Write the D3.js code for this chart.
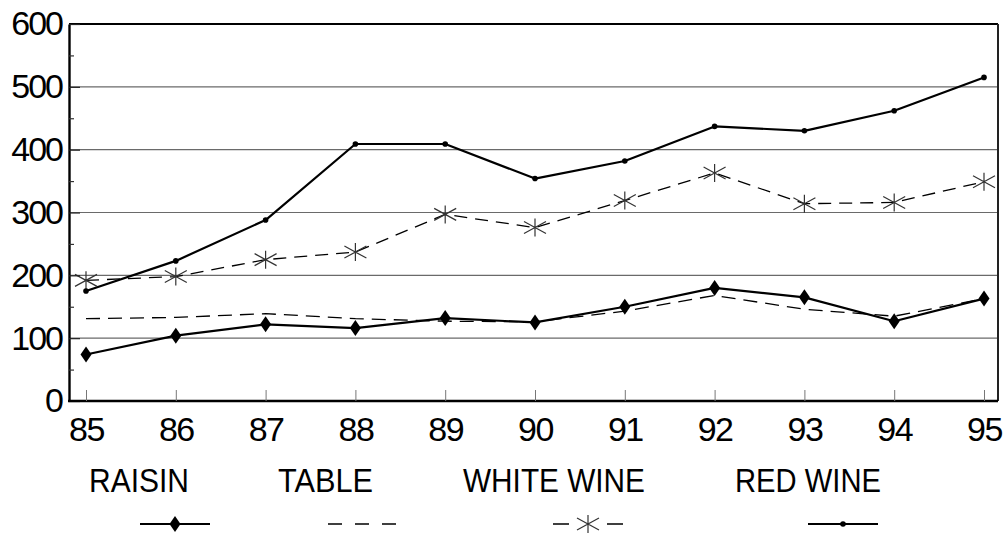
<!DOCTYPE html>
<html>
<head>
<meta charset="utf-8">
<script src="https://d3js.org/d3.v7.min.js"></script>
<style>
    body { margin: 0; background: #fff; }
    svg { display: block; }
    text { font-family: "Liberation Sans", Arial, Helvetica, sans-serif; fill: #000; }
</style>
</head>
<body>
<svg width="1008" height="535"></svg>
<script>
let width = 1008, height = 535;

// Data
let years = ["85", "86", "87", "88", "89", "90", "91", "92", "93", "94", "95"];
let raisin = [74, 104, 122, 116, 132, 125, 150, 180, 165, 127, 163];
let table = [131, 133, 139, 131, 127, 126, 143, 168, 146, 135, 163];
let whiteWine = [192, 198, 225, 237, 297, 276, 319, 363, 314, 316, 349];
let redWine = [175, 223, 288, 409, 409, 354, 382, 437, 430, 462, 515];
let yTicks = [0, 100, 200, 300, 400, 500, 600];
let yMinorTicks = [50, 150, 250, 350, 450, 550];
let seriesNames = ["RAISIN", "TABLE", "WHITE WINE", "RED WINE"];

let svg = d3.select("svg")
    .attr("viewBox", "0 0 " + width + " " + height);

let plot = { left: 69, right: 998, top: 24, bottom: 401 };

// Scales
let x = d3.scalePoint()
    .domain(years)
    .range([86, 984]);

let y = d3.scaleLinear()
    .domain([0, 600])
    .range([plot.bottom, plot.top]);

// Series styling
let series = [
    { name: seriesNames[0], values: raisin, width: 2.2, dash: null, legendDash: null, marker: "diamond" },
    { name: seriesNames[1], values: table, width: 1.3, dash: "14,8", legendDash: "14,13", marker: null },
    { name: seriesNames[2], values: whiteWine, width: 1.3, dash: "13,8", legendDash: "16,38", marker: "star" },
    { name: seriesNames[3], values: redWine, width: 2.2, dash: null, legendDash: null, marker: "dot" }
];

// Gridlines
svg.append("g")
    .selectAll("line")
    .data(yTicks.filter(d => d > 0 && d < 600))
    .enter().append("line")
    .attr("x1", plot.left)
    .attr("x2", plot.right)
    .attr("y1", d => y(d))
    .attr("y2", d => y(d))
    .attr("stroke", "#6a6a6a")
    .attr("stroke-width", 1.2);

// Top and right border
svg.append("line")
    .attr("x1", plot.left).attr("x2", plot.right)
    .attr("y1", plot.top).attr("y2", plot.top)
    .attr("stroke", "#000").attr("stroke-width", 2.2);
svg.append("line")
    .attr("x1", plot.right).attr("x2", plot.right)
    .attr("y1", plot.top).attr("y2", plot.bottom)
    .attr("stroke", "#222").attr("stroke-width", 2);

// Marker shapes
function drawMarker(g, type, cx, cy) {
    if (type == "diamond") {
        g.append("path")
            .attr("d", `M${cx},${cy - 8}L${cx + 5.5},${cy}L${cx},${cy + 8}L${cx - 5.5},${cy}Z`)
            .attr("fill", "#000");
    } else if (type == "dot") {
        g.append("circle")
            .attr("cx", cx).attr("cy", cy).attr("r", 2.8)
            .attr("fill", "#000");
    } else if (type == "star") {
        g.append("path")
            .attr("d", `M${cx},${cy - 9}L${cx},${cy + 9}M${cx - 11},${cy - 6}L${cx + 11},${cy + 6}M${cx - 11},${cy + 6}L${cx + 11},${cy - 6}`)
            .attr("stroke", "#333")
            .attr("stroke-width", 1.2)
            .attr("fill", "none");
    }
}

let line = d3.line()
    .x((d, i) => x(years[i]))
    .y(d => y(d));

// Lines
let lines = svg.append("g");
series.forEach(s => {
    lines.append("path")
        .datum(s.values)
        .attr("d", line)
        .attr("fill", "none")
        .attr("stroke", "#000")
        .attr("stroke-width", s.width)
        .attr("stroke-linejoin", "round")
        .attr("stroke-dasharray", s.dash);
});

// Markers
let markers = svg.append("g");
series.forEach(s => {
    if (!s.marker) return;
    s.values.forEach((v, i) => drawMarker(markers, s.marker, x(years[i]), y(v)));
});

// Y axis
let yAxis = svg.append("g")
    .attr("transform", "translate(" + plot.left + ",0)")
    .call(d3.axisLeft(y)
        .tickValues(yTicks)
        .tickSizeInner(-11)
        .tickSizeOuter(0)
        .tickPadding(7));
yAxis.select(".domain").attr("stroke", "#000").attr("stroke-width", 2.4);
yAxis.selectAll(".tick line").attr("stroke", "#222").attr("stroke-width", 1.2);
yAxis.selectAll(".tick text")
    .style("font-size", "34px")
    .style("letter-spacing", "-2px")
    .style("font-family", "'Liberation Sans', Arial, sans-serif");

let yMinor = svg.append("g")
    .attr("transform", "translate(" + plot.left + ",0)")
    .call(d3.axisLeft(y)
        .tickValues(yMinorTicks)
        .tickSizeInner(-5)
        .tickSizeOuter(0)
        .tickFormat(""));
yMinor.select(".domain").remove();
yMinor.selectAll(".tick line").attr("stroke", "#333").attr("stroke-width", 1.2);

// X axis
let xAxis = svg.append("g")
    .attr("transform", "translate(0," + plot.bottom + ")")
    .call(d3.axisBottom(x)
        .tickSizeInner(-11)
        .tickSizeOuter(0)
        .tickPadding(16));
xAxis.select(".domain")
    .attr("d", "M" + (plot.left - 1) + ",0H" + plot.right)
    .attr("stroke", "#000").attr("stroke-width", 2.6);
xAxis.selectAll(".tick line").attr("stroke", "#777").attr("stroke-width", 1);
xAxis.selectAll(".tick text")
    .style("font-size", "34px")
    .style("letter-spacing", "-1.5px")
    .style("font-family", "'Liberation Sans', Arial, sans-serif");

// Legend
let legendText = [
    { x: 89, w: 100 },
    { x: 278, w: 95 },
    { x: 463, w: 182 },
    { x: 735, w: 146 }
];
let legendSymbol = [175, 363, 588, 843];

let legend = svg.append("g").attr("id", "legend");
series.forEach((s, i) => {
    legend.append("text")
        .attr("x", legendText[i].x)
        .attr("y", 492)
        .attr("textLength", legendText[i].w)
        .attr("lengthAdjust", "spacingAndGlyphs")
        .style("font-size", "34px")
        .text(s.name);

    let cx = legendSymbol[i];
    legend.append("line")
        .attr("x1", cx - 35).attr("x2", cx + 35)
        .attr("y1", 524).attr("y2", 524)
        .attr("stroke", "#000")
        .attr("stroke-width", s.dash ? 1.6 : s.width)
        .attr("stroke-dasharray", s.legendDash);
    if (s.marker) drawMarker(legend, s.marker, cx, 524);
});
</script>
</body>
</html>
